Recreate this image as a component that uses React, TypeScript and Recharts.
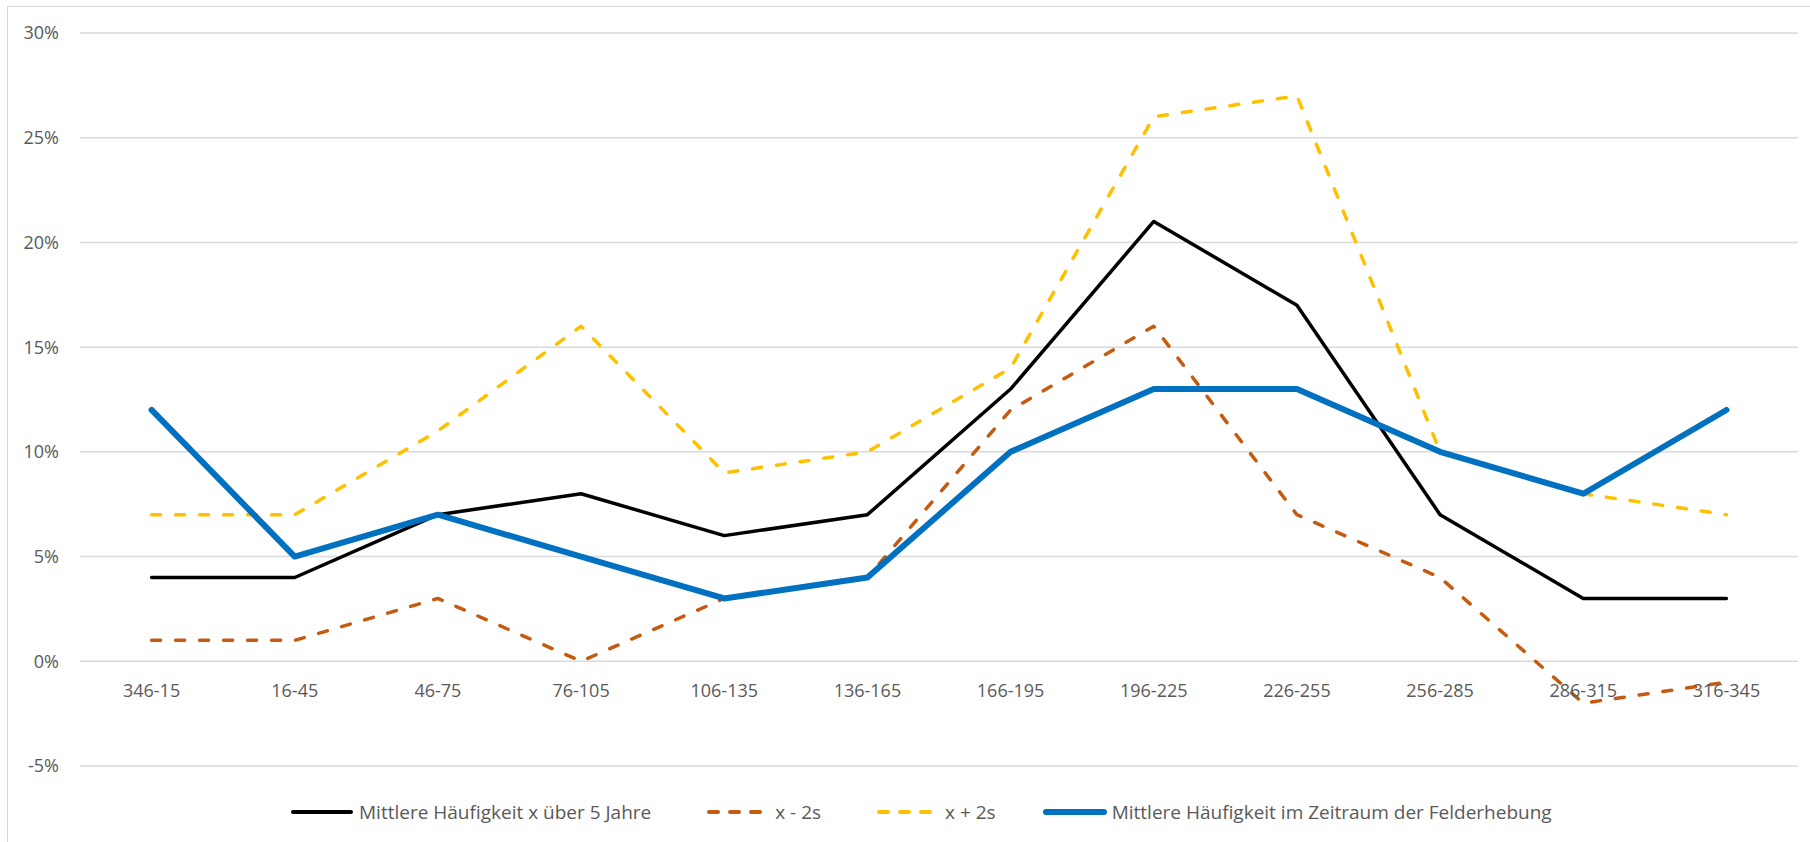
import React from 'react';
import { LineChart, Line, XAxis, YAxis, CartesianGrid, Legend } from 'recharts';

const categories = [
  '346-15', '16-45', '46-75', '76-105', '106-135', '136-165',
  '166-195', '196-225', '226-255', '256-285', '286-315', '316-345',
];
const mean5Years = [4, 4, 7, 8, 6, 7, 13, 21, 17, 7, 3, 3];
const minus2s = [1, 1, 3, 0, 3, 4, 12, 16, 7, 4, -2, -1];
const plus2s = [7, 7, 11, 16, 9, 10, 14, 26, 27, 10, 8, 7];
const surveyPeriod = [12, 5, 7, 5, 3, 4, 10, 13, 13, 10, 8, 12];
const yTicks = [-5, 0, 5, 10, 15, 20, 25, 30];

const W = 1810;
const H = 842;
const M = { top: 33, right: 12, left: 0, bottom: 10 };
const Y_AXIS_W = 80;
const X_AXIS_H = 26;
const LEGEND_H = 40;
const Y_MIN = -5;
const Y_MAX = 30;
const PLOT_H = H - M.top - M.bottom - X_AXIS_H - LEGEND_H;
const ZERO_Y = M.top + (PLOT_H * Y_MAX) / (Y_MAX - Y_MIN);
const HALF_BAND = (W - M.left - M.right - Y_AXIS_W) / categories.length / 2;

const FONT = '"Open Sans", sans-serif';
const TEXT = '#595959';

const series = [
  { key: 'mean', name: 'Mittlere Häufigkeit x über 5 Jahre', color: '#000000', width: 3.5, dash: undefined, gap: 0 },
  { key: 'minus', name: 'x - 2s', color: '#C55A11', width: 3.5, dash: '9 15', gap: 55 },
  { key: 'plus', name: 'x + 2s', color: '#FFC000', width: 3.5, dash: '9 15', gap: 55 },
  { key: 'survey', name: 'Mittlere Häufigkeit im Zeitraum der Felderhebung', color: '#0070C0', width: 6, dash: undefined, gap: 47 },
];

const data = categories.map((c, i) => ({
  cat: c,
  mean: mean5Years[i],
  minus: minus2s[i],
  plus: plus2s[i],
  survey: surveyPeriod[i],
}));

// category labels sit under the 0% line, as in Excel
const CategoryTick = (props: any) => {
  const { x, payload } = props;
  return (
    <text x={x} y={ZERO_Y + 29} textAnchor="middle" dominantBaseline="central"
      fill={TEXT} fontSize={18} fontFamily={FONT}>
      {payload.value}
    </text>
  );
};

const LegendContent = () => (
  <div style={{ display: 'flex', justifyContent: 'flex-start', alignItems: 'center', height: LEGEND_H, paddingLeft: 290 }}>
    {series.map((s) => (
      <div key={s.key} style={{ display: 'flex', alignItems: 'center', marginLeft: s.gap }}>
        <svg width={64} height={10} style={{ marginRight: 5 }}>
          <line x1={3} y1={5} x2={61} y2={5} stroke={s.color} strokeWidth={s.key === 'survey' ? 6 : 4}
            strokeDasharray={s.dash ? '9 12' : undefined} strokeLinecap="round" />
        </svg>
        <span style={{ fontFamily: FONT, fontSize: 19, color: TEXT, whiteSpace: 'nowrap' }}>{s.name}</span>
      </div>
    ))}
  </div>
);

export default function App() {
  return (
    <div style={{ position: 'absolute', left: 0, top: 0, width: W, height: H, background: '#fff' }}>
      <div style={{ position: 'absolute', left: 7, top: 6, width: W, height: H, border: '1px solid #d9d9d9', boxSizing: 'border-box' }} />
      <div style={{ position: 'absolute', left: 0, top: 0 }}>
        <LineChart width={W} height={H} data={data} margin={M}>
          <CartesianGrid vertical={false} stroke="#d9d9d9" strokeWidth={1.5} />
          <XAxis dataKey="cat" height={X_AXIS_H} axisLine={false} tickLine={false}
            padding={{ left: HALF_BAND, right: HALF_BAND }}
            tick={<CategoryTick />} interval={0} />
          <YAxis width={Y_AXIS_W} domain={[Y_MIN, Y_MAX]} ticks={yTicks} axisLine={false} tickLine={false}
            tickMargin={15} tickFormatter={(v: number) => `${v}%`}
            tick={{ fill: TEXT, fontSize: 18, fontFamily: FONT }} />
          <Legend verticalAlign="bottom" height={LEGEND_H} content={<LegendContent />} />
          {series.map((s) => (
            <Line key={s.key} type="linear" dataKey={s.key} name={s.name} stroke={s.color}
              strokeWidth={s.width} strokeDasharray={s.dash} strokeLinecap="round" strokeLinejoin="round"
              dot={false} activeDot={false} isAnimationActive={false} />
          ))}
        </LineChart>
      </div>
    </div>
  );
}
